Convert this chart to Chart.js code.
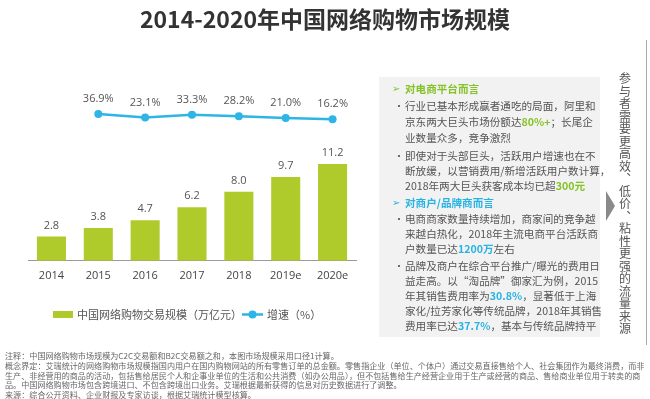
<!DOCTYPE html>
<html>
<head>
<meta charset="utf-8">
<script src="https://cdn.jsdelivr.net/npm/chart.js@4/dist/chart.umd.min.js"></script>
<style>
  html, body { margin:0; padding:0; background:#fff; }
  body { width:650px; height:399px; position:relative; overflow:hidden; font-family:"Noto Sans CJK SC","Noto Sans",sans-serif; }
  #c { position:absolute; left:0; top:0; }
  .title { position:absolute; left:0; top:3px; width:650px; text-align:center; font-size:23px; font-weight:bold; color:#333; line-height:30px; }
  .panel { position:absolute; left:379px; top:77px; width:221px; height:260px; background:#f2f2f2; }
  .ln { position:absolute; left:405px; height:16px; line-height:16px; font-size:10.6px; color:#555; white-space:nowrap; }
  .bul { position:absolute; left:394px; height:16px; line-height:16px; font-size:10px; color:#555; }
  .hd { font-weight:bold; }
  .g { color:#84c225; font-weight:bold; }
  .b { color:#27b3e3; font-weight:bold; }
  .arr { position:absolute; left:392px; height:16px; line-height:16px; font-size:10px; font-family:"DejaVu Sans",sans-serif; }
  .tri { position:absolute; left:606px; top:191px; width:0; height:0; border-top:15px solid transparent; border-bottom:15px solid transparent; border-left:9px solid #8a8a8a; }
  .vt { position:absolute; left:617px; top:72px; width:16px; font-size:12px; line-height:12.5px; text-align:center; color:#555; }
  .vt span { display:block; height:12.5px; }
  .vline { position:absolute; left:646px; top:40px; width:1px; height:305px; background:#aaa; }
  .foot { position:absolute; left:5px; top:351px; font-size:8.1px; line-height:9.8px; color:#666; white-space:nowrap; }
</style>
</head>
<body>
<canvas id="c" width="650" height="399"></canvas>
<div class="title">2014-2020年中国网络购物市场规模</div>

<div class="panel"></div>
<div class="arr" style="top:81px;color:#84c225">➢</div>
<div class="ln hd" style="top:81px;color:#84c225">对电商平台而言</div>
<div class="bul" style="top:98px">•</div>
<div class="ln" style="top:98px">行业已基本形成赢者通吃的局面，阿里和</div>
<div class="ln" style="top:114px">京东两大巨头市场份额达<span class="g">80%+</span>；长尾企</div>
<div class="ln" style="top:130px">业数量众多，竞争激烈</div>
<div class="bul" style="top:148px">•</div>
<div class="ln" style="top:148px">即使对于头部巨头，活跃用户增速也在不</div>
<div class="ln" style="top:163px">断放缓，以营销费用/新增活跃用户数计算，</div>
<div class="ln" style="top:178px">2018年两大巨头获客成本均已超<span class="g">300元</span></div>
<div class="arr" style="top:195px;color:#27b3e3">➢</div>
<div class="ln hd" style="top:195px;color:#27b3e3">对商户/品牌商而言</div>
<div class="bul" style="top:211px">•</div>
<div class="ln" style="top:211px">电商商家数量持续增加，商家间的竞争越</div>
<div class="ln" style="top:226px">来越白热化，2018年主流电商平台活跃商</div>
<div class="ln" style="top:241px">户数量已达<span class="b">1200万</span>左右</div>
<div class="bul" style="top:258px">•</div>
<div class="ln" style="top:258px">品牌及商户在综合平台推广/曝光的费用日</div>
<div class="ln" style="top:273px">益走高。以“淘品牌”御家汇为例，2015</div>
<div class="ln" style="top:288px">年其销售费用率为<span class="b">30.8%</span>，显著低于上海</div>
<div class="ln" style="top:303px">家化/拉芳家化等传统品牌，2018年其销售</div>
<div class="ln" style="top:318px">费用率已达<span class="b">37.7%</span>，基本与传统品牌持平</div>

<div class="tri"></div>
<div class="vt" id="vt"></div>
<div class="vline"></div>

<div class="foot">
注释：中国网络购物市场规模为C2C交易额和B2C交易额之和，本图市场规模采用口径1计算。<br>
概念界定：艾瑞统计的网络购物市场规模指国内用户在国内购物网站的所有零售订单的总金额。零售指企业（单位、个体户）通过交易直接售给个人、社会集团作为最终消费，而非<br>
生产、非经营用的商品的活动，包括售给居民个人和企事业单位的生活和公共消费（如办公用品），但不包括售给生产经营企业用于生产或经营的商品、售给商业单位用于转卖的商<br>
品。中国网络购物市场包含跨境进口、不包含跨境出口业务。艾瑞根据最新获得的信息对历史数据进行了调整。<br>
来源：综合公开资料、企业财报及专家访谈，根据艾瑞统计模型核算。
</div>

<script>
const categories = ['2014', '2015', '2016', '2017', '2018', '2019e', '2020e'];
const marketSize = [2.8, 3.8, 4.7, 6.2, 8.0, 9.7, 11.2];
const growthRate = [null, 36.9, 23.1, 33.3, 28.2, 21.0, 16.2];
const seriesNames = ['中国网络购物交易规模（万亿元）', '增速（%）'];
const sideNote = '参与者需要更高效︑低价︑粘性更强的流量来源';

(function () {
  const box = document.getElementById('vt');
  for (const ch of sideNote) {
    const s = document.createElement('span');
    s.textContent = ch;
    box.appendChild(s);
  }
})();

const BAR_COLOR = '#afcb2b';
const LINE_COLOR = '#2cb5e5';
const LABEL_FONT = '11px "Open Sans", "Noto Sans CJK SC", sans-serif';

const valueLabels = {
  id: 'valueLabels',
  afterDatasetsDraw(chart) {
    const ctx = chart.ctx;
    ctx.save();
    ctx.font = LABEL_FONT;
    ctx.fillStyle = '#555';
    ctx.textAlign = 'center';
    ctx.textBaseline = 'middle';
    chart.data.datasets.forEach((ds, i) => {
      const meta = chart.getDatasetMeta(i);
      meta.data.forEach((el, j) => {
        const v = ds.data[j];
        if (v === null || v === undefined) return;
        if (ds.type === 'line') {
          ctx.fillText(v.toFixed(1) + '%', el.x, el.y - 15);
        } else {
          ctx.fillText(v.toFixed(1), el.x, el.y - 11);
        }
      });
    });
    ctx.restore();
  }
};

const customLegend = {
  id: 'customLegend',
  afterDraw(chart) {
    const ctx = chart.ctx;
    const barDs = chart.data.datasets.find(d => d.type === 'bar');
    const lineDs = chart.data.datasets.find(d => d.type === 'line');
    const y = 314.5;
    ctx.save();
    ctx.font = '11px "Noto Sans CJK SC", sans-serif';
    ctx.textBaseline = 'middle';
    ctx.textAlign = 'left';
    ctx.fillStyle = barDs.backgroundColor;
    ctx.fillRect(53, y - 3.5, 20, 7);
    ctx.fillStyle = '#555';
    ctx.fillText(barDs.label, 77, y);
    ctx.strokeStyle = lineDs.borderColor;
    ctx.lineWidth = 2.5;
    ctx.beginPath();
    ctx.moveTo(242, y);
    ctx.lineTo(263, y);
    ctx.stroke();
    ctx.fillStyle = lineDs.borderColor;
    ctx.beginPath();
    ctx.arc(252.5, y, 4, 0, Math.PI * 2);
    ctx.fill();
    ctx.fillStyle = '#555';
    ctx.fillText(lineDs.label, 267, y);
    ctx.restore();
  }
};

new Chart(document.getElementById('c'), {
  data: {
    labels: categories,
    datasets: [
      {
        type: 'line',
        label: seriesNames[1],
        data: growthRate,
        yAxisID: 'y2',
        borderColor: LINE_COLOR,
        backgroundColor: LINE_COLOR,
        borderWidth: 2.5,
        pointRadius: 4,
        pointBackgroundColor: LINE_COLOR,
        pointBorderWidth: 0,
        tension: 0,
        order: 0
      },
      {
        type: 'bar',
        label: seriesNames[0],
        data: marketSize,
        yAxisID: 'y',
        backgroundColor: BAR_COLOR,
        barPercentage: 0.62,
        categoryPercentage: 1.0,
        order: 1
      }
    ]
  },
  options: {
    responsive: false,
    animation: false,
    devicePixelRatio: 1,
    layout: { padding: { left: 28, right: 294, top: 88, bottom: 109 } },
    plugins: {
      legend: { display: false },
      tooltip: { enabled: false },
      title: { display: false }
    },
    scales: {
      x: {
        grid: { display: false, drawTicks: false },
        border: { display: true, color: '#9a9a9a', width: 1 },
        ticks: { color: '#444', font: { size: 11, family: '"Open Sans", "Noto Sans CJK SC", sans-serif' }, padding: 8 }
      },
      y: { display: false, min: 0, max: 20 },
      y2: { display: false, min: -520, max: 135, position: 'right' }
    }
  },
  plugins: [valueLabels, customLegend]
});
</script>
</body>
</html>
